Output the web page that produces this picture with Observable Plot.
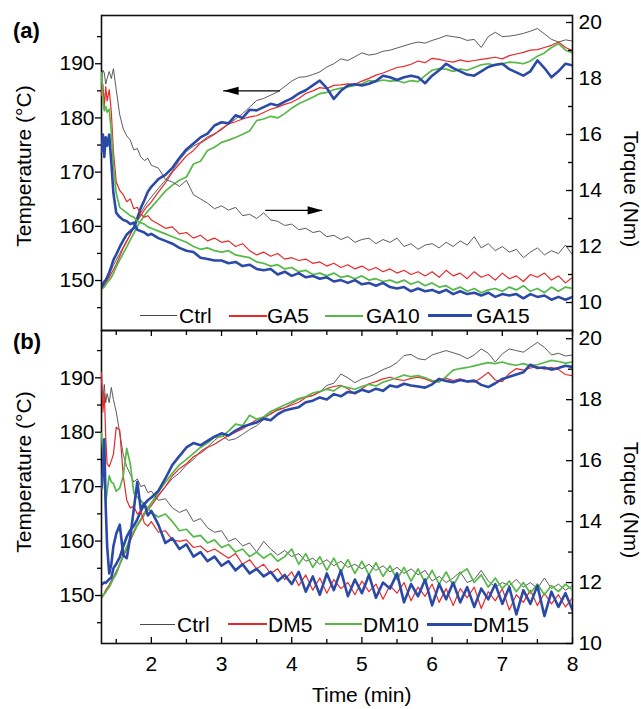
<!DOCTYPE html>
<html>
<head>
<meta charset="utf-8">
<script src="https://cdn.jsdelivr.net/npm/d3@7"></script>
<script src="https://cdn.jsdelivr.net/npm/@observablehq/plot@0.6"></script>
<style>
html, body { margin: 0; padding: 0; background: #fff; overflow: hidden; }
#root { position: relative; width: 641px; height: 709px; font-family: "Liberation Sans", Arial, Helvetica, sans-serif; color: #000; }
#root svg { position: absolute; left: 0; }
.lbl { position: absolute; white-space: nowrap; line-height: 1; font-size: 21px; }
.rot { transform: translate(-50%, -50%) rotate(-90deg); }
.rotcw { transform: translate(-50%, -50%) rotate(90deg); }
.sw { position: absolute; z-index: 5; }
</style>
</head>
<body>
<div id="root"></div>
<script>
// ---------- sample times (min) ----------
const time = [1.29,1.31,1.33,1.35,1.37,1.40,1.43,1.46,1.50,1.55,1.60,1.65,1.70,1.75,1.80,1.85,1.90,1.95,
  2.0,2.1,2.2,2.3,2.4,2.5,2.6,2.7,2.8,2.9,
  3.0,3.1,3.2,3.3,3.4,3.5,3.6,3.7,3.8,3.9,
  4.0,4.1,4.2,4.3,4.4,4.5,4.6,4.7,4.8,4.9,
  5.0,5.1,5.2,5.3,5.4,5.5,5.6,5.7,5.8,5.9,
  6.0,6.1,6.2,6.3,6.4,6.5,6.6,6.7,6.8,6.9,
  7.0,7.1,7.2,7.3,7.4,7.5,7.6,7.7,7.8,7.9,
  8.0];

// ---------- panel (a): temperature (°C) ----------
const tempCtrlA = [148.5,148.8,149.2,149.7,150.2,151.0,151.9,152.8,153.8,155.0,156.2,157.4,158.4,159.8,161.2,162.5,163.6,164.6,
  165.4,167.0,168.5,170.2,172.2,173.8,174.8,175.5,176.5,177.1,
  177.8,178.9,179.8,180.8,182.0,183.2,183.6,184.2,184.8,185.8,
  186.8,187.5,187.6,188.0,188.5,189.4,190.0,190.9,190.6,191.3,
  192.0,191.6,191.8,192.3,192.5,192.9,193.3,193.7,194.0,193.8,
  194.3,194.7,195.2,195.0,194.8,194.3,194.5,193.0,195.0,195.8,
  195.0,195.1,195.3,195.6,196.0,196.5,195.5,194.5,194.0,194.4,
  194.2];
const tempGA5 = [148.5,148.7,149.0,149.5,150.0,150.5,151.3,152.0,153.0,154.5,156.0,157.2,158.5,159.8,161.0,162.0,163.0,163.8,
  164.5,166.3,168.0,170.0,171.5,173.0,174.0,175.4,176.2,177.0,
  178.0,178.9,179.3,179.8,180.2,180.4,181.0,181.6,182.0,182.5,
  182.9,183.6,184.5,185.0,185.6,185.4,186.0,186.1,186.3,186.2,
  186.8,187.3,187.9,188.3,188.8,189.3,189.5,189.9,190.5,190.2,
  191.0,190.8,190.5,190.3,190.7,190.4,190.6,190.8,191.0,191.2,
  190.9,191.5,191.8,192.1,192.5,192.6,193.0,193.4,194.0,193.0,
  192.4];
const tempGA10 = [148.5,148.6,148.8,149.2,149.6,150.0,150.6,151.3,152.5,153.8,155.0,156.2,157.5,158.7,160.0,161.0,162.0,162.8,
  163.5,165.0,166.5,167.6,168.5,169.1,171.5,172.0,174.0,174.6,
  175.5,175.9,176.4,177.0,177.6,179.5,179.8,180.3,180.0,180.8,
  181.8,182.6,183.2,183.8,184.5,184.7,185.2,185.5,185.7,186.0,
  186.3,186.9,186.7,187.0,186.8,186.9,186.5,186.9,186.7,187.8,
  188.8,189.1,189.0,188.6,189.0,188.8,189.3,189.8,190.0,189.7,
  190.0,190.3,190.2,190.0,190.5,191.4,192.0,193.0,193.7,192.5,
  192.0];
const tempGA15 = [148.8,149.3,149.8,150.1,150.6,151.5,152.6,153.8,154.8,156.2,157.4,158.5,159.1,159.7,161.5,163.4,164.8,166.4,
  167.3,168.7,169.5,170.8,172.6,174.2,175.3,176.4,177.1,178.6,
  179.2,179.0,180.5,180.0,181.5,181.4,182.0,182.6,182.3,183.0,
  183.6,184.5,185.1,186.0,186.9,185.5,183.5,185.0,186.0,186.2,
  186.0,186.3,186.8,187.8,187.5,187.0,187.5,187.8,187.5,186.4,
  187.8,188.8,190.0,189.2,188.6,188.0,187.8,188.6,189.4,189.8,
  190.0,189.0,188.4,187.8,188.6,190.6,189.2,187.5,188.6,190.0,
  189.7];

// ---------- panel (a): torque (Nm) ----------
const torqueCtrlA = [17.9,18.3,18.2,17.8,18.0,18.25,18.0,18.35,17.6,16.7,16.2,15.95,15.8,15.45,15.5,15.2,15.07,15.15,
  14.9,14.8,14.4,14.3,14.15,14.36,13.85,13.7,13.55,13.35,
  13.45,13.3,13.4,13.1,13.15,13.0,13.2,12.95,12.9,12.75,
  12.8,12.6,12.65,12.5,12.55,12.35,12.4,12.25,12.35,12.15,
  12.25,12.3,12.1,12.25,12.15,12.3,12.0,12.1,11.9,12.05,
  12.1,11.95,12.15,12.0,12.2,12.05,12.35,11.95,12.1,11.85,
  12.0,11.8,11.9,11.6,11.8,11.95,11.7,11.85,11.75,12.05,
  11.7];
const torqueGA5 = [17.4,17.8,17.0,17.7,17.2,17.6,16.8,15.4,14.3,14.0,13.85,13.6,13.7,13.35,13.4,13.15,13.05,13.1,
  12.95,12.8,12.65,12.7,12.45,12.5,12.3,12.4,12.2,12.3,
  12.15,12.2,12.0,12.1,11.85,11.7,11.8,11.65,11.75,11.55,
  11.6,11.5,11.55,11.4,11.45,11.3,11.4,11.25,11.35,11.2,
  11.3,11.15,11.25,11.1,11.2,11.05,11.15,11.0,11.1,10.95,
  11.1,10.9,11.15,10.95,11.05,10.85,11.1,10.9,11.0,10.8,
  11.05,10.85,10.95,10.75,11.0,10.9,11.05,10.8,10.95,10.7,
  10.9];
const torqueGA10 = [18.2,17.2,16.85,17.0,16.8,16.9,16.1,14.9,13.9,13.4,13.3,13.2,13.1,13.05,12.9,12.85,12.8,12.7,
  12.65,12.55,12.45,12.35,12.25,12.15,12.0,11.9,11.95,11.85,
  11.8,11.85,11.7,11.65,11.6,11.45,11.4,11.3,11.35,11.2,
  11.25,11.1,11.15,11.0,11.05,10.95,11.05,10.9,10.95,10.85,
  10.95,10.8,10.85,10.75,10.8,10.7,10.8,10.65,10.75,10.6,
  10.7,10.55,10.6,10.45,10.55,10.4,10.5,10.35,10.45,10.5,
  10.4,10.55,10.45,10.6,10.4,10.5,10.35,10.55,10.4,10.55,
  10.5];
const torqueGA15 = [15.4,16.0,15.2,15.9,15.6,16.0,15.0,13.9,13.2,13.05,12.95,12.9,12.8,12.85,12.6,12.55,12.5,12.4,
  12.45,12.3,12.2,12.1,11.95,11.85,11.8,11.6,11.55,11.5,
  11.5,11.4,11.45,11.3,11.35,11.2,11.15,11.2,11.0,11.1,
  10.95,11.05,10.9,10.95,10.85,10.9,10.75,10.8,10.7,10.8,
  10.65,10.7,10.6,10.7,10.55,10.5,10.55,10.4,10.5,10.4,
  10.45,10.35,10.45,10.3,10.4,10.3,10.35,10.25,10.35,10.2,
  10.3,10.25,10.3,10.15,10.3,10.2,10.25,10.1,10.2,10.1,
  10.2];

// ---------- panel (b): temperature (°C) ----------
const tempCtrlB = [149.5,149.8,150.2,150.8,151.2,152.0,152.8,153.5,154.5,155.8,157.0,158.5,160.0,161.5,163.0,164.0,165.3,166.2,
  167.0,168.5,170.0,171.5,172.5,174.0,175.0,176.5,177.3,178.5,
  179.5,178.5,178.8,179.6,180.5,181.2,182.3,183.5,184.0,184.5,
  185.3,186.0,186.5,186.7,187.4,188.6,189.0,190.7,190.0,189.1,
  189.8,190.2,190.8,191.5,192.0,192.8,194.1,194.3,193.5,193.3,
  194.2,194.6,195.0,194.6,194.2,193.5,194.2,195.3,194.5,192.9,
  194.4,195.3,195.0,194.7,195.6,196.5,195.6,194.2,194.5,194.0,
  194.2];
const tempDM5 = [149.8,150.0,150.4,151.0,151.4,151.8,152.5,153.2,154.0,155.6,157.2,158.8,160.3,161.5,162.8,163.8,164.8,165.7,
  166.5,168.3,170.0,172.0,173.3,174.2,175.5,176.2,177.2,177.8,
  178.6,179.4,180.0,180.6,181.5,182.3,182.8,183.3,184.2,184.5,
  185.0,185.5,186.4,186.8,187.4,188.0,188.4,188.6,188.0,187.0,
  188.0,188.9,189.3,189.8,190.1,189.7,189.5,189.9,190.1,189.8,
  189.3,189.6,189.9,189.5,189.8,189.4,189.2,190.0,191.0,189.6,
  189.3,190.8,191.7,191.4,191.8,192.0,191.6,191.9,191.5,190.6,
  190.4];
const tempDM10 = [149.8,150.0,150.3,150.6,151.0,151.5,152.3,153.1,154.0,155.8,157.5,159.0,160.6,161.8,163.0,164.0,165.0,166.0,
  167.0,169.0,170.8,172.5,174.0,175.0,176.1,177.2,178.0,179.1,
  179.2,180.2,181.5,181.2,183.1,182.4,182.8,183.8,184.4,185.0,
  185.6,186.2,186.5,187.2,187.5,187.9,187.6,188.5,188.2,187.9,
  188.4,188.8,188.5,189.2,189.6,190.0,190.5,190.2,190.4,190.0,
  189.5,189.2,190.2,191.4,191.7,191.9,192.2,192.5,192.8,192.6,
  192.9,192.5,192.3,192.6,192.2,192.4,192.8,193.2,193.0,192.7,
  192.9];
const tempDM15 = [152.0,152.2,152.4,152.3,152.6,153.0,153.3,155.0,155.8,157.0,159.0,160.8,162.0,162.8,164.0,165.5,166.8,167.5,
  168.0,169.2,171.5,174.0,175.6,177.2,178.0,177.6,178.4,179.2,
  179.8,179.4,180.3,181.0,181.4,181.8,182.5,182.2,183.3,184.0,
  184.3,184.6,185.5,185.8,186.4,186.0,187.0,186.6,187.4,187.2,
  187.8,187.4,188.0,187.6,188.6,188.3,188.9,188.6,188.4,188.2,
  188.8,189.8,189.4,189.2,189.6,189.3,189.5,188.7,188.3,189.0,
  189.8,190.2,190.6,191.0,192.4,191.8,191.9,191.5,191.8,192.2,
  192.0];

// ---------- panel (b): torque (Nm) ----------
const torqueCtrlB = [18.6,18.0,18.5,17.9,18.2,17.9,18.4,18.0,17.6,16.9,16.2,15.8,15.55,15.3,15.4,15.15,15.2,14.95,
  15.0,14.7,14.75,14.45,14.3,14.4,14.0,14.1,13.8,13.65,
  13.7,13.35,13.45,13.2,13.3,13.0,13.35,13.1,12.9,13.05,
  12.85,12.95,12.7,12.8,12.6,12.75,12.55,12.7,12.5,12.6,
  12.45,12.6,12.4,12.55,12.35,12.5,12.3,12.45,12.25,12.4,
  12.05,12.2,12.0,12.15,12.35,12.0,12.1,12.4,12.05,11.85,
  12.0,11.9,12.1,11.85,12.0,11.8,12.15,11.8,11.95,11.75,
  11.9];
const torqueDM5 = [18.9,17.6,18.2,16.8,15.9,15.8,16.0,16.2,17.1,17.0,15.5,14.7,14.45,14.5,14.25,14.35,13.95,13.85,
  14.0,13.65,13.7,13.4,13.35,13.4,13.15,13.2,13.0,13.1,
  12.95,12.8,12.95,12.6,12.75,12.45,12.6,12.3,12.45,12.1,
  12.35,11.9,12.25,11.75,12.15,11.65,12.1,11.8,12.0,11.6,
  12.05,11.7,11.95,11.45,11.9,11.65,12.0,11.4,11.85,11.55,
  11.95,11.35,11.8,11.25,11.8,11.5,11.85,11.15,11.7,11.4,
  11.8,11.1,11.6,11.35,11.75,11.25,11.65,11.3,11.6,11.2,
  11.5];
const torqueDM10 = [16.9,16.3,15.2,14.6,15.0,15.5,15.3,15.25,15.0,15.1,15.5,16.4,15.9,14.95,14.8,14.7,14.55,14.45,
  14.3,14.15,14.25,14.0,13.7,13.75,13.5,13.55,13.3,13.4,
  13.15,13.25,13.0,13.1,12.85,13.0,12.8,12.95,12.7,12.85,
  13.1,12.6,12.95,12.5,12.85,12.4,12.8,12.35,12.75,12.3,
  12.7,12.25,12.65,12.2,12.55,12.1,12.5,12.05,12.45,12.0,
  12.4,11.95,12.35,11.9,12.3,12.45,12.0,12.25,11.85,12.15,
  11.8,12.05,11.7,12.0,11.65,11.95,11.6,11.9,11.7,11.95,
  11.75];
const torqueDM15 = [15.1,15.7,16.7,14.5,13.2,12.3,12.6,13.2,13.6,13.9,12.9,12.8,13.5,14.4,15.3,14.4,14.6,14.2,
  14.35,13.9,13.3,13.45,13.1,13.25,12.85,13.0,12.7,12.85,
  12.55,12.7,12.4,12.6,12.3,12.45,12.2,12.35,12.05,12.25,
  11.95,12.35,11.7,12.2,11.6,12.3,11.75,12.4,11.55,12.1,
  11.65,12.25,11.5,12.0,11.8,12.3,11.35,11.95,11.55,12.1,
  11.25,11.95,11.45,12.0,11.35,11.85,11.2,11.8,11.45,11.95,
  11.3,11.85,10.95,11.75,11.3,11.9,10.9,11.7,11.2,11.65,
  11.1];

// ---------- names, ticks, annotations ----------
const seriesA = ["Ctrl", "GA5", "GA10", "GA15"];
const seriesB = ["Ctrl", "DM5", "DM10", "DM15"];
const seriesColors = ["#4a4a4a", "#e8282b", "#56b947", "#2b4aa8"];
const seriesWidths = [0.9, 1.2, 1.7, 2.6];
const swatchHeights = [1, 2, 2, 3];
const tempTicks = [150, 160, 170, 180, 190];
const tempMinorTicks = [145, 155, 165, 175, 185, 195];
const torqueTicks = [10, 12, 14, 16, 18, 20];
const torqueMinorTicks = [11, 13, 15, 17, 19];
const timeTicks = [2, 3, 4, 5, 6, 7, 8];
const timeMinorTicks = [1.5, 2.5, 3.5, 4.5, 5.5, 6.5, 7.5];
const arrowTempA = [{x1: 3.84, x2: 3.03, y: 185.0}];
const arrowTorqueA = [{x1: 3.63, x2: 4.44, y: 13.29}];

// ---------- layout ----------
const W = 641, ML = 101, MR = 69;
const frameW = W - ML - MR;
const FONT = '"Liberation Sans", Arial, Helvetica, sans-serif';
const STYLE = `background: transparent; overflow: visible; font-family: ${FONT}; font-size: 21px; color: #000;`;
const xDomain = [1.29, 8];

const leftHead = {draw(c) { c.moveTo(0, 0); c.lineTo(15, -4.2); c.lineTo(15, 4.2); c.closePath(); }};
const rightHead = {draw(c) { c.moveTo(0, 0); c.lineTo(-15, -4.2); c.lineTo(-15, 4.2); c.closePath(); }};

function lineMarks(arrays) {
  return arrays.map((arr, i) => Plot.line(
    time.map((t, j) => ({t, v: arr[j]})),
    {x: "t", y: "v", stroke: seriesColors[i], strokeWidth: seriesWidths[i], strokeLinejoin: "round", clip: true}
  ));
}

function panel(g) {
  const frameH = g.height - g.marginTop - g.marginBottom;
  const base = {width: W, height: g.height, marginTop: g.marginTop, marginBottom: g.marginBottom,
    marginLeft: ML, marginRight: MR, style: STYLE};
  const tMarks = [
    Plot.axisY(tempTicks, {anchor: "left", tickSize: 6, tickPadding: 1, strokeWidth: 1.3, label: null}),
    Plot.axisY(tempMinorTicks, {anchor: "left", tickSize: 4, strokeWidth: 1.3, tickFormat: () => "", label: null}),
    ...lineMarks(g.temps)
  ];
  if (g.showX) {
    tMarks.push(
      Plot.ruleX(timeTicks, {x: d => d, insetTop: frameH - 6, strokeWidth: 1.3}),
      Plot.ruleX(timeMinorTicks, {x: d => d, insetTop: frameH - 4, strokeWidth: 1.3}),
      Plot.ruleX(timeTicks, {x: d => d, insetBottom: frameH - 6, strokeWidth: 1.3}),
      Plot.ruleX(timeMinorTicks, {x: d => d, insetBottom: frameH - 5, strokeWidth: 1.3}),
      Plot.axisX(timeTicks, {anchor: "bottom", tickSize: 0, tickPadding: 13, label: null})
    );
  }
  if (g.arrowT) {
    tMarks.push(
      Plot.ruleY(g.arrowT, {y: "y", x1: "x1", x2: "x2", strokeWidth: 1.3}),
      Plot.dot(g.arrowT, {x: "x2", y: "y", symbol: leftHead, fill: "black", stroke: "none"})
    );
  }
  tMarks.push(Plot.frame({stroke: "#111", strokeWidth: 1.6}));
  const tPlot = Plot.plot({...base,
    x: {domain: xDomain, axis: g.showX ? undefined : null, label: null},
    y: {domain: g.tDomain, label: null},
    marks: tMarks});

  const qMarks = [
    Plot.axisY(torqueTicks, {anchor: "right", tickSize: 0, tickPadding: 6, label: null}),
    Plot.ruleY(torqueTicks, {y: d => d, insetLeft: frameW - 6, strokeWidth: 1.3}),
    Plot.ruleY(torqueMinorTicks, {y: d => d, insetLeft: frameW - 4, strokeWidth: 1.3}),
    ...lineMarks(g.torques)
  ];
  if (g.arrowQ) {
    qMarks.push(
      Plot.ruleY(g.arrowQ, {y: "y", x1: "x1", x2: "x2", strokeWidth: 1.3}),
      Plot.dot(g.arrowQ, {x: "x2", y: "y", symbol: rightHead, fill: "black", stroke: "none"})
    );
  }
  const qPlot = Plot.plot({...base,
    x: {domain: xDomain, axis: null},
    y: {domain: g.qDomain, label: null},
    marks: qMarks});
  for (const p of [tPlot, qPlot]) p.style.top = g.top + "px";
  return [tPlot, qPlot];
}

const root = document.getElementById("root");
const A = panel({top: 0, height: 330, marginTop: 15, marginBottom: 0,
  tDomain: [140.78, 198.9], qDomain: [9.0, 20.25],
  temps: [tempCtrlA, tempGA5, tempGA10, tempGA15],
  torques: [torqueCtrlA, torqueGA5, torqueGA10, torqueGA15],
  showX: false, arrowT: arrowTempA, arrowQ: arrowTorqueA});
const B = panel({top: 330, height: 379, marginTop: 0, marginBottom: 66,
  tDomain: [141.18, 198.69], qDomain: [10.0, 20.27],
  temps: [tempCtrlB, tempDM5, tempDM10, tempDM15],
  torques: [torqueCtrlB, torqueDM5, torqueDM10, torqueDM15],
  showX: true});
[...A, ...B].forEach(s => root.appendChild(s));

// ---------- text labels & legends (HTML) ----------
function label(text, css, cls) {
  const d = document.createElement("div");
  d.className = "lbl" + (cls ? " " + cls : "");
  d.textContent = text;
  Object.assign(d.style, css);
  root.appendChild(d);
  return d;
}
label("(a)", {left: "13px", top: "20px", fontSize: "22px", fontWeight: "bold"});
label("(b)", {left: "13px", top: "331px", fontSize: "22px", fontWeight: "bold"});
label("Temperature (°C)", {left: "23px", top: "166px"}, "rot");
label("Temperature (°C)", {left: "23px", top: "472px"}, "rot");
label("Torque (Nm)", {left: "630.5px", top: "189px"}, "rotcw");
label("Torque (Nm)", {left: "630.5px", top: "500px"}, "rotcw");
label("Time (min)", {left: "361.7px", top: "684px", transform: "translateX(-50%)"});

function legend(names, yc, swatches, textLefts) {
  names.forEach((n, i) => {
    const s = document.createElement("div");
    s.className = "sw";
    const h = swatchHeights[i];
    Object.assign(s.style, {left: swatches[i][0] + "px", width: (swatches[i][1] - swatches[i][0]) + "px",
      top: Math.round(yc - h / 2) + "px", height: h + "px", background: seriesColors[i]});
    root.appendChild(s);
    label(n, {left: textLefts[i] + "px", top: (yc - 10.3) + "px"});
  });
}
legend(seriesA, 315.5, [[140, 177], [229, 267], [325, 363], [428, 472]], [179, 267, 366, 476]);
legend(seriesB, 624, [[140, 175], [228, 267], [325, 362], [427, 472]], [177, 268, 363, 473]);
</script>
</body>
</html>
